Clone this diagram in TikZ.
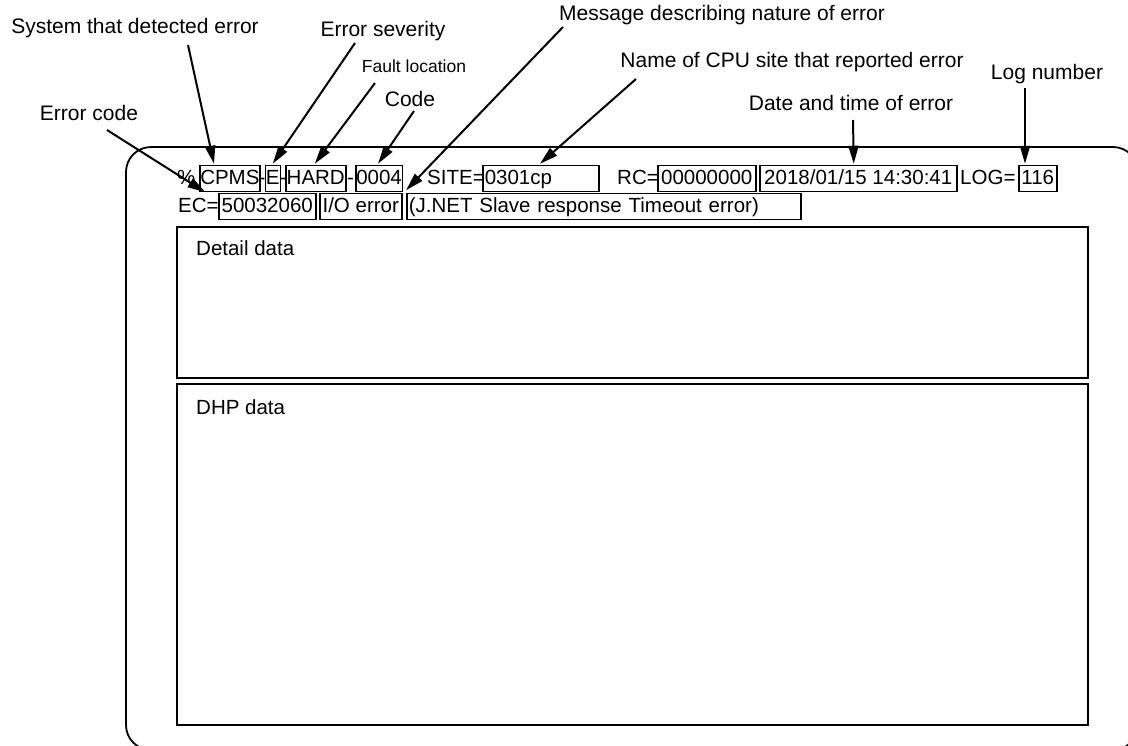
\documentclass[tikz,border=0pt]{standalone}
\usepackage{fontspec}
\setmainfont{Liberation Sans}
\usetikzlibrary{arrows.meta,calc}
\newcommand\rowfont{\fontsize{20.5}{24}\selectfont}
\newcommand\tagfont{\fontsize{21}{25}\selectfont}

\begin{document}
\begin{tikzpicture}[x=1pt,y=-1pt,
field/.style={draw, line width=1.5pt, anchor=west, font=\rowfont, minimum height=26pt, minimum width=#1, inner xsep=0.5pt, inner ysep=0pt, text height=15pt, text depth=4pt},
lfield/.style={field=10pt, inner xsep=2pt, text width=#1, align=left},
plain/.style={anchor=west, font=\rowfont, inner sep=0pt, minimum height=26pt, text height=15pt, text depth=4pt},
tag/.style={font=\tagfont, inner sep=0pt},
ptr/.style={-{Triangle[length=18pt,width=10pt]}, line width=2pt},
panel/.style={draw, line width=1.8pt},
]
\useasboundingbox (0,0) rectangle (1128,745);
\clip (0,0) rectangle (1128,745);

% screen frame and data panels
\draw[panel, rounded corners=25pt] (126,147) rectangle (1138,750);
\node[panel, anchor=north west, minimum width=911pt, minimum height=151pt, inner sep=0pt] (detail) at (176,226) {};
\node[panel, anchor=north west, minimum width=911pt, minimum height=341pt, inner sep=0pt] (dhp) at (176,383) {};
\node[tag, anchor=west, font=\rowfont] (detailtxt) at ($(detail.north west)+(20,22)$) {Detail data};
\node[tag, anchor=west, font=\rowfont] (dhptxt) at ($(dhp.north west)+(20,24)$) {DHP data};

% first message line
\node[plain] (pct) at (177,178.5) {\%};
\node[field=58pt] (cpms) at (199,178.5) {CPMS};
\node[plain] (d1) at (258.5,178.5) {-};
\node[field=15pt] (sev) at (264.5,178.5) {E};
\node[plain] (d2) at (279.5,178.5) {-};
\node[field=60pt] (hard) at (285,178.5) {HARD};
\node[plain] (d3) at (347,178.5) {-};
\node[field=45pt] (code) at (355,178.5) {0004};
\node[plain] (sitel) at (427,178.5) {SITE=};
\node[lfield=112pt] (site) at (482,178.5) {0301cp};
\node[plain] (rcl) at (617,178.5) {RC=};
\node[field=98pt] (rc) at (657,178.5) {00000000};
\node[field=197pt] (date) at (759,178.5) {2018/01/15 14:30:41};
\node[plain] (logl) at (960,178.5) {LOG=};
\node[field=38pt] (lognum) at (1018,178.5) {116};

% second message line
\node[plain] (ecl) at (178,206.5) {EC=};
\node[field=97pt] (ec) at (218,206.5) {50032060};
\node[field=82pt] (io) at (319,206.5) {I/O error};
\node[lfield=390pt] (msgf) at (406,206.5) {(J.NET Slave response Timeout error)};

% callout labels
\node[tag] (lsys) at (135,28) {System that detected error};
\node[tag] (lsev) at (383,31) {Error severity};
\node[tag, font=\fontsize{17.5}{20}\selectfont] (lloc) at (414,66) {Fault location};
\node[tag] (lcode) at (410,99) {Code};
\node[tag] (lec) at (89,113) {Error code};
\node[tag] (lmsg) at (722,15) {Message describing nature of error};
\node[tag] (lsite) at (792,62) {Name of CPU site that reported error};
\node[tag] (ldate) at (851,103) {Date and time of error};
\node[tag] (llog) at (1047,74) {Log number};

% callout arrows
\draw[ptr] ($(lsys.center)+(53,17)$) -- ($(cpms.north west)+(15,-1)$);
\draw[ptr] ($(lsev.center)+(-28,12)$) -- ($(sev.north)+(0,-1)$);
\draw[ptr] ($(lloc.center)+(-39,17)$) -- ($(hard.north)+(-1,-1)$);
\draw[ptr] ($(lcode.center)+(4,12)$) -- ($(code.north)+(-1,-1)$);
\draw[ptr] ($(lec.center)+(18,17)$) -- ($(ecl.north)+(7,-1)$);
\draw[ptr] ($(lmsg.center)+(-159,12)$) -- ($(code.south east)+(3,-2)$);
\draw[ptr] ($(lsite.center)+(-156,17)$) -- ($(site.north west)+(58,-1)$);
\draw[ptr] ($(ldate.center)+(2,17)$) -- ($(date.north)+(-4.5,-1)$);
\draw[ptr] ($(llog.center)+(-22,14)$) -- ($(lognum.north west)+(7,-1)$);
\end{tikzpicture}
\end{document}
